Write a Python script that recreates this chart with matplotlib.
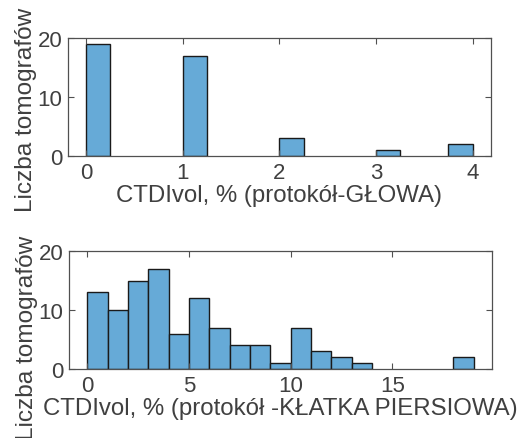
import matplotlib
matplotlib.use("Agg")
import matplotlib.pyplot as plt
import numpy as np

plt.rcParams['font.family'] = ['Liberation Sans', 'DejaVu Sans']

# Top histogram (head protocol), bin width 0.25
head_edges = [0.0, 0.25, 0.5, 0.75, 1.0, 1.25, 1.5, 1.75, 2.0, 2.25, 2.5, 2.75,
              3.0, 3.25, 3.5, 3.75, 4.0]
head_counts = [19, 0, 0, 0, 17, 0, 0, 0, 3, 0, 0, 0, 1, 0, 0, 2]

# Bottom histogram (chest protocol), bin width 1
chest_edges = list(range(0, 20))
chest_counts = [13, 10, 15, 17, 6, 12, 7, 4, 4, 1, 7, 3, 2, 1, 0, 0, 0, 0, 2]

head_xticks = [0, 1, 2, 3, 4]
chest_xticks = [0, 5, 10, 15]
yticks = [0, 10, 20]

ylabel = "Liczba tomografów"
head_xlabel = "CTDIvol, % (protokół-GŁOWA)"
chest_xlabel = "CTDIvol, % (protokół -KŁATKA PIERSIOWA)"

face = (0.4, 0.668, 0.845)
txt = '#404040'
edge_ax = '#505050'

fig = plt.figure(figsize=(5.21, 4.39), dpi=100)
ax1 = fig.add_axes([0.1305, 0.6424, 0.8119, 0.2686])
ax2 = fig.add_axes([0.1324, 0.1572, 0.8116, 0.2681])

def style(ax, xlim, xticks, xlabel, ylab_y):
    ax.set_xlim(*xlim)
    ax.set_ylim(0, 20)
    ax.set_xticks(xticks)
    ax.set_yticks(yticks)
    ax.tick_params(direction='in', top=True, right=True, labelsize=16,
                   length=4, width=0.8, colors=edge_ax, labelcolor=txt, pad=4)
    for s in ax.spines.values():
        s.set_color(edge_ax)
        s.set_linewidth(0.9)
    ax.set_xlabel(xlabel, fontsize=17.3, color=txt, labelpad=1)
    ax.set_ylabel(ylabel, fontsize=17.6, color=txt)
    ax.yaxis.set_label_coords(-0.074, ylab_y)

def draw(ax, edges, counts):
    lefts = [e for e, c in zip(edges[:-1], counts) if c > 0]
    widths = [edges[i + 1] - edges[i] for i, c in enumerate(counts) if c > 0]
    heights = [c for c in counts if c > 0]
    ax.bar(lefts, heights, width=widths, align='edge', color=face,
           edgecolor='#1a1a1a', linewidth=1.0)

draw(ax1, head_edges, head_counts)
style(ax1, (-0.19, 4.19), head_xticks, head_xlabel, 0.40)

draw(ax2, chest_edges, chest_counts)
style(ax2, (-0.9, 19.9), chest_xticks, chest_xlabel, 0.272)

fig.savefig("out.png", dpi=100)
